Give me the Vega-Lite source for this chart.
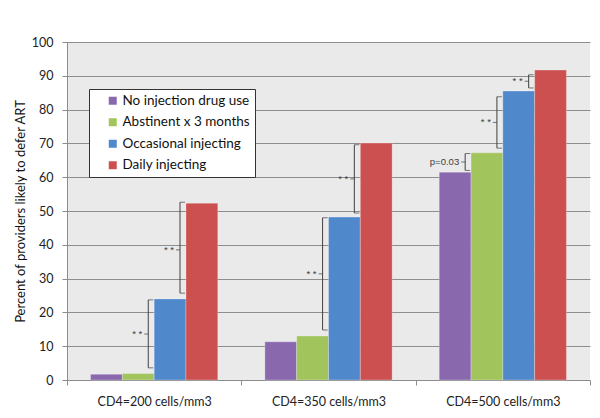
{
  "$schema": "https://vega.github.io/schema/vega-lite/v6.json",
  "width": 523,
  "height": 338,
  "autosize": {"type": "none"},
  "padding": {"left": 67, "top": 42, "right": 10, "bottom": 38},
  "background": "white",
  "config": {
    "view": {"fill": "#EAEAEA", "stroke": null},
    "font": "Lato",
    "axisY": {
      "grid": true,
      "gridColor": "#8E8E8E",
      "domainColor": "#8C8C8C",
      "tickColor": "#8C8C8C",
      "tickSize": 5,
      "labelFontSize": 12.5,
      "labelColor": "#222222",
      "labelPadding": 9,
      "titleFontSize": 13,
      "titleFontWeight": "normal",
      "titleColor": "#111111",
      "titlePadding": 4
    }
  },
  "resolve": {"scale": {"xOffset": "independent"}},
  "datasets": {
    "bars": [
      {"group": "CD4=200 cells/mm3", "series": "No injection drug use", "pct": 1.7},
      {"group": "CD4=200 cells/mm3", "series": "Abstinent x 3 months", "pct": 1.9},
      {"group": "CD4=200 cells/mm3", "series": "Occasional injecting", "pct": 24},
      {"group": "CD4=200 cells/mm3", "series": "Daily injecting", "pct": 52.3},
      {"group": "CD4=350 cells/mm3", "series": "No injection drug use", "pct": 11.3},
      {"group": "CD4=350 cells/mm3", "series": "Abstinent x 3 months", "pct": 13},
      {"group": "CD4=350 cells/mm3", "series": "Occasional injecting", "pct": 48.2},
      {"group": "CD4=350 cells/mm3", "series": "Daily injecting", "pct": 70.1},
      {"group": "CD4=500 cells/mm3", "series": "No injection drug use", "pct": 61.5},
      {"group": "CD4=500 cells/mm3", "series": "Abstinent x 3 months", "pct": 67.2},
      {"group": "CD4=500 cells/mm3", "series": "Occasional injecting", "pct": 85.5},
      {"group": "CD4=500 cells/mm3", "series": "Daily injecting", "pct": 91.7}
    ],
    "brackets": [
      {"group": "CD4=200 cells/mm3", "series": "Occasional injecting", "lo": 3.6, "hi": 23.7, "mid": 13.6, "label": "* *"},
      {"group": "CD4=200 cells/mm3", "series": "Daily injecting", "lo": 25.7, "hi": 52.6, "mid": 38.5, "label": "* *"},
      {"group": "CD4=350 cells/mm3", "series": "Occasional injecting", "lo": 14.8, "hi": 48, "mid": 31.4, "label": "* *"},
      {"group": "CD4=350 cells/mm3", "series": "Daily injecting", "lo": 49.4, "hi": 69.6, "mid": 59.5, "label": "* *"},
      {"group": "CD4=500 cells/mm3", "series": "Abstinent x 3 months", "lo": 62, "hi": 67, "mid": 64.5, "label": "p=0.03"},
      {"group": "CD4=500 cells/mm3", "series": "Occasional injecting", "lo": 68.6, "hi": 83.8, "mid": 76.2, "label": "* *"},
      {"group": "CD4=500 cells/mm3", "series": "Daily injecting", "lo": 86.4, "hi": 90.3, "mid": 88.4, "label": "* *"}
    ]
  },
  "encoding": {
    "x": {
      "field": "group",
      "type": "nominal",
      "scale": {"paddingInner": 0, "paddingOuter": 0},
      "axis": {
        "title": null,
        "labelAngle": 0,
        "labelFontSize": 12.5,
        "labelColor": "#222222",
        "labelPadding": 10,
        "domainColor": "#8C8C8C",
        "tickColor": "#8C8C8C",
        "tickSize": 5,
        "tickBand": "extent"
      }
    }
  },
  "layer": [
    {
      "data": {"name": "bars"},
      "mark": {"type": "bar", "stroke": "#FFFFFF", "strokeOpacity": 0.35, "strokeWidth": 0.8},
      "encoding": {
        "xOffset": {
          "field": "series",
          "type": "nominal",
          "scale": {
            "domain": ["No injection drug use", "Abstinent x 3 months", "Occasional injecting", "Daily injecting"],
            "paddingInner": 0,
            "paddingOuter": 0.74
          }
        },
        "y": {
          "field": "pct",
          "type": "quantitative",
          "scale": {"domain": [0, 100], "nice": false},
          "axis": {
            "title": "Percent of providers likely to defer  ART",
            "values": [0, 10, 20, 30, 40, 50, 60, 70, 80, 90, 100]
          }
        },
        "color": {
          "field": "series",
          "type": "nominal",
          "scale": {
            "domain": ["No injection drug use", "Abstinent x 3 months", "Occasional injecting", "Daily injecting"],
            "range": ["#8A68AE", "#A2C45C", "#5088CC", "#CC5050"]
          },
          "legend": {
            "orient": "none",
            "legendX": 22,
            "legendY": 47,
            "title": null,
            "fillColor": "#FFFFFF",
            "strokeColor": "#333333",
            "padding": 5,
            "symbolOffset": 12,
            "symbolType": "square",
            "symbolSize": 64,
            "symbolStrokeWidth": 0,
            "labelFontSize": 13.5,
            "labelColor": "#111111",
            "labelOffset": 3,
            "rowPadding": 6.5
          }
        }
      }
    },
    {
      "data": {"name": "brackets"},
      "mark": {"type": "rule", "color": "#404040", "strokeWidth": 1},
      "encoding": {
        "xOffset": {
          "field": "series",
          "type": "nominal",
          "scale": {
            "type": "point",
            "domain": ["Abstinent x 3 months", "Occasional injecting", "Daily injecting"],
            "range": [49.5, 113],
            "padding": 0
          }
        },
        "y": {
          "field": "lo",
          "type": "quantitative",
          "axis": {
            "title": "Percent of providers likely to defer  ART",
            "values": [0, 10, 20, 30, 40, 50, 60, 70, 80, 90, 100]
          }
        },
        "y2": {"field": "hi"}
      }
    },
    {
      "data": {"name": "brackets"},
      "mark": {"type": "tick", "size": 5, "thickness": 1, "color": "#404040", "orient": "horizontal"},
      "encoding": {
        "xOffset": {
          "field": "series",
          "type": "nominal",
          "scale": {
            "type": "point",
            "domain": ["Abstinent x 3 months", "Occasional injecting", "Daily injecting"],
            "range": [52, 115.5],
            "padding": 0
          }
        },
        "y": {
          "field": "lo",
          "type": "quantitative",
          "axis": {
            "title": "Percent of providers likely to defer  ART",
            "values": [0, 10, 20, 30, 40, 50, 60, 70, 80, 90, 100]
          }
        }
      }
    },
    {
      "data": {"name": "brackets"},
      "mark": {"type": "tick", "size": 5, "thickness": 1, "color": "#404040", "orient": "horizontal"},
      "encoding": {
        "xOffset": {
          "field": "series",
          "type": "nominal",
          "scale": {
            "type": "point",
            "domain": ["Abstinent x 3 months", "Occasional injecting", "Daily injecting"],
            "range": [52, 115.5],
            "padding": 0
          }
        },
        "y": {
          "field": "hi",
          "type": "quantitative",
          "axis": {
            "title": "Percent of providers likely to defer  ART",
            "values": [0, 10, 20, 30, 40, 50, 60, 70, 80, 90, 100]
          }
        }
      }
    },
    {
      "data": {"name": "brackets"},
      "mark": {"type": "tick", "size": 4, "thickness": 1, "color": "#404040", "orient": "horizontal"},
      "encoding": {
        "xOffset": {
          "field": "series",
          "type": "nominal",
          "scale": {
            "type": "point",
            "domain": ["Abstinent x 3 months", "Occasional injecting", "Daily injecting"],
            "range": [47.5, 111],
            "padding": 0
          }
        },
        "y": {
          "field": "mid",
          "type": "quantitative",
          "axis": {
            "title": "Percent of providers likely to defer  ART",
            "values": [0, 10, 20, 30, 40, 50, 60, 70, 80, 90, 100]
          }
        }
      }
    },
    {
      "data": {"name": "brackets"},
      "mark": {"type": "text", "dx": -6, "align": "right", "baseline": "middle", "font": "Liberation Sans", "fontSize": 9.5, "color": "#404040"},
      "encoding": {
        "xOffset": {
          "field": "series",
          "type": "nominal",
          "scale": {
            "type": "point",
            "domain": ["Abstinent x 3 months", "Occasional injecting", "Daily injecting"],
            "range": [49.5, 113],
            "padding": 0
          }
        },
        "y": {
          "field": "mid",
          "type": "quantitative",
          "axis": {
            "title": "Percent of providers likely to defer  ART",
            "values": [0, 10, 20, 30, 40, 50, 60, 70, 80, 90, 100]
          }
        },
        "text": {"field": "label"}
      }
    }
  ]
}
